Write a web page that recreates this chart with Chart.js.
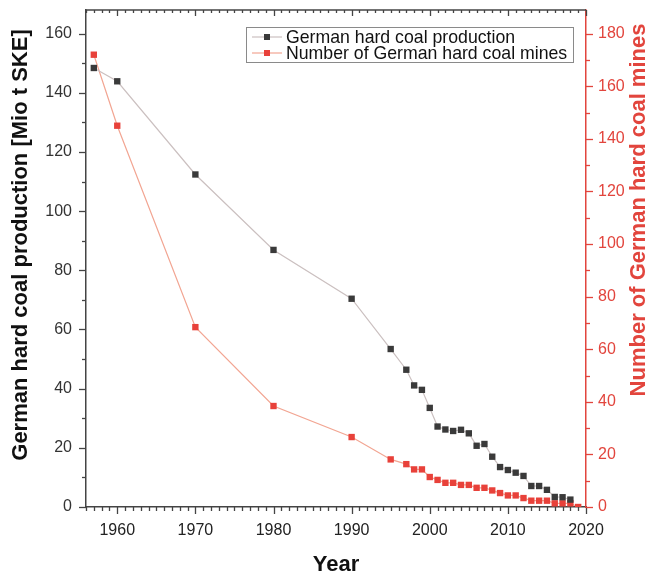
<!DOCTYPE html>
<html>
<head>
<meta charset="utf-8">
<script src="https://cdn.jsdelivr.net/npm/chart.js@4"></script>
<style>
  html, body { margin: 0; padding: 0; background: #fff; }
  #wrap { width: 654px; height: 575px; }
</style>
</head>
<body>
<div id="wrap"><canvas id="chart" width="654" height="575"></canvas></div>
<script>
// values
const prodYears = [1957, 1960, 1970, 1980, 1990, 1995, 1997, 1998, 1999, 2000, 2001, 2002, 2003, 2004,
    2005, 2006, 2007, 2008, 2009, 2010, 2011, 2012, 2013, 2014, 2015, 2016, 2017, 2018];
const production = [148.4, 143.9, 112.4, 86.9, 70.4, 53.4, 46.4, 41.1, 39.6, 33.5, 27.2, 26.2, 25.7, 26.1,
    24.9, 20.7, 21.3, 17.0, 13.5, 12.5, 11.6, 10.5, 7.1, 7.1, 5.8, 3.4, 3.3, 2.5];

const mineYears = [1957, 1960, 1970, 1980, 1990, 1995, 1997, 1998, 1999, 2000, 2001, 2002, 2003, 2004,
    2005, 2006, 2007, 2008, 2009, 2010, 2011, 2012, 2013, 2014, 2015, 2016, 2017, 2018, 2019];
const mines = [172, 145, 68.4, 38.4, 26.6, 18.1, 16.3, 14.3, 14.3, 11.4, 10.3, 9.2, 9.2, 8.4,
    8.4, 7.3, 7.3, 6.3, 5.3, 4.4, 4.4, 3.4, 2.4, 2.4, 2.4, 1.4, 1.4, 1.4, 0];

const xTicks = [1960, 1970, 1980, 1990, 2000, 2010, 2020];
const leftTicks = [0, 20, 40, 60, 80, 100, 120, 140, 160];
const rightTicks = [0, 20, 40, 60, 80, 100, 120, 140, 160, 180];

const seriesNames = ['German hard coal production', 'Number of German hard coal mines'];

const RED = '#e2453d';
const FONT = '"Liberation Sans", Arial, sans-serif';

function keepTicks(list) {
    return function (scale) {
        scale.ticks = list.map(v => ({ value: v }));
    };
}

// ticks, top border, axis titles and the boxed legend
const decorations = {
    id: 'decorations',
    afterDraw(chart) {
        const ctx = chart.ctx;
        const x = chart.scales.x, y = chart.scales.y, y1 = chart.scales.y1;
        const area = chart.chartArea;
        ctx.save();

        // top border
        ctx.strokeStyle = '#444';
        ctx.lineWidth = 1.5;
        ctx.beginPath();
        ctx.moveTo(area.left, area.top);
        ctx.lineTo(area.right, area.top);
        ctx.stroke();

        // x ticks (bottom outward, top inward)
        ctx.lineWidth = 1.3;
        for (let yr = 1956; yr <= 2020; yr++) {
            const px = Math.round(x.getPixelForValue(yr)) + 0.5;
            const major = yr % 10 === 0;
            ctx.beginPath();
            ctx.moveTo(px, area.bottom);
            ctx.lineTo(px, area.bottom + (major ? 7 : 4));
            ctx.moveTo(px, area.top);
            ctx.lineTo(px, area.top + (major ? 6 : 3));
            ctx.stroke();
        }
        // left ticks
        for (let v = 0; v <= 160; v += 10) {
            const py = Math.round(y.getPixelForValue(v)) + 0.5;
            ctx.beginPath();
            ctx.moveTo(area.left, py);
            ctx.lineTo(area.left - (v % 20 === 0 ? 7 : 4), py);
            ctx.stroke();
        }
        // right ticks
        ctx.strokeStyle = RED;
        for (let v = 0; v <= 180; v += 10) {
            const py = Math.round(y1.getPixelForValue(v)) + 0.5;
            ctx.beginPath();
            ctx.moveTo(area.right, py);
            ctx.lineTo(area.right + (v % 20 === 0 ? 7 : 4), py);
            ctx.stroke();
        }

        // axis titles
        ctx.font = 'bold 22px ' + FONT;
        ctx.textAlign = 'center';
        ctx.textBaseline = 'middle';
        ctx.fillStyle = '#111';
        ctx.save();
        ctx.translate(21, 245);
        ctx.rotate(-Math.PI / 2);
        ctx.fillText('German hard coal production [Mio t SKE]', 0, 0);
        ctx.restore();

        ctx.fillStyle = RED;
        ctx.save();
        ctx.translate(639, 210);
        ctx.rotate(-Math.PI / 2);
        ctx.fillText('Number of German hard coal mines', 0, 0);
        ctx.restore();

        ctx.fillStyle = '#111';
        ctx.textBaseline = 'alphabetic';
        ctx.fillText('Year', (area.left + area.right) / 2, 571);

        // legend
        ctx.fillStyle = '#fff';
        ctx.fillRect(246.5, 27.5, 327, 35);
        ctx.strokeStyle = '#8a8a8a';
        ctx.lineWidth = 1;
        ctx.strokeRect(246.5, 27.5, 327, 35);
        ctx.font = '17.7px ' + FONT;
        ctx.textAlign = 'left';
        ctx.textBaseline = 'middle';
        chart.data.datasets.forEach((ds, i) => {
            const cy = 37 + i * 16;
            ctx.strokeStyle = ds.borderColor;
            ctx.lineWidth = 1.2;
            ctx.beginPath();
            ctx.moveTo(252, cy);
            ctx.lineTo(282, cy);
            ctx.stroke();
            ctx.fillStyle = ds.pointBackgroundColor;
            ctx.fillRect(264, cy - 3, 6, 6);
            ctx.fillStyle = '#111';
            ctx.fillText(ds.label, 286, cy + 1);
        });

        ctx.restore();
    }
};

new Chart(document.getElementById('chart').getContext('2d'), {
    type: 'line',
    data: {
        datasets: [{
            label: seriesNames[0],
            data: prodYears.map((yr, i) => ({ x: yr, y: production[i] })),
            yAxisID: 'y',
            borderColor: '#cbc0c0',
            borderWidth: 1.2,
            pointStyle: 'rect',
            pointRadius: 4.5,
            pointBorderWidth: 0,
            pointBackgroundColor: '#3a3a3a',
            pointBorderColor: '#3a3a3a',
            tension: 0
        }, {
            label: seriesNames[1],
            data: mineYears.map((yr, i) => ({ x: yr, y: mines[i] })),
            yAxisID: 'y1',
            borderColor: '#f2a592',
            borderWidth: 1.2,
            pointStyle: 'rect',
            pointRadius: 4.5,
            pointBorderWidth: 0,
            pointBackgroundColor: '#e8413a',
            pointBorderColor: '#e8413a',
            tension: 0
        }]
    },
    options: {
        responsive: false,
        animation: false,
        layout: { padding: { top: 10, left: 0, right: 0, bottom: 0 } },
        plugins: { legend: { display: false }, tooltip: { enabled: false } },
        scales: {
            x: {
                type: 'linear',
                min: 1956,
                max: 2020,
                afterBuildTicks: keepTicks(xTicks),
                afterFit(scale) { scale.height = 68; scale.paddingLeft = 0; scale.paddingRight = 0; },
                grid: { display: false, drawTicks: false },
                border: { display: true, color: '#444', width: 1.5 },
                ticks: {
                    padding: 14,
                    color: '#222',
                    font: { family: FONT, size: 16 },
                    maxRotation: 0,
                    callback: v => String(v)
                }
            },
            y: {
                position: 'left',
                min: 0,
                max: 168,
                afterBuildTicks: keepTicks(leftTicks),
                afterFit(scale) { scale.width = 86; scale.paddingTop = 0; scale.paddingBottom = 0; },
                grid: { display: false, drawTicks: false },
                border: { display: true, color: '#444', width: 1.5 },
                ticks: {
                    padding: 14,
                    color: '#333',
                    font: { family: FONT, size: 16 }
                }
            },
            y1: {
                position: 'right',
                min: 0,
                max: 189,
                afterBuildTicks: keepTicks(rightTicks),
                afterFit(scale) { scale.width = 68; scale.paddingTop = 0; scale.paddingBottom = 0; },
                grid: { display: false, drawTicks: false },
                border: { display: true, color: RED, width: 1.5 },
                ticks: {
                    padding: 12,
                    color: RED,
                    font: { family: FONT, size: 16 }
                }
            }
        }
    },
    plugins: [decorations]
});
</script>
</body>
</html>
